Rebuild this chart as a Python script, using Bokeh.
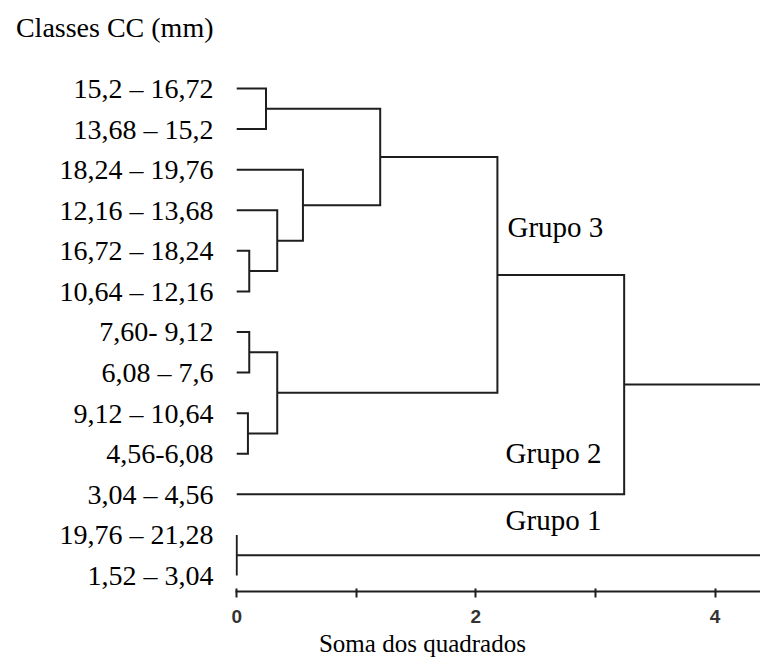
from bokeh.plotting import figure
from bokeh.models import Range1d, FixedTicker, ColumnDataSource, LinearAxis
from bokeh.core.properties import value
from bokeh.embed import file_html
from bokeh.resources import INLINE

# ---- data -------------------------------------------------------------
LEAVES = [
    "15,2 \u2013 16,72",
    "13,68 \u2013 15,2",
    "18,24 \u2013 19,76",
    "12,16 \u2013 13,68",
    "16,72 \u2013 18,24",
    "10,64 \u2013 12,16",
    "7,60- 9,12",
    "6,08 \u2013 7,6",
    "9,12 \u2013 10,64",
    "4,56-6,08",
    "3,04 \u2013 4,56",
    "19,76 \u2013 21,28",
    "1,52 \u2013 3,04",
]
# linkage: node ids 0..12 are leaves, merges get ids 13, 14, ...
MERGE_LEFT = [11, 4, 8, 6, 0, 3, 16, 2, 17, 21, 22, 23]
MERGE_RIGHT = [12, 5, 9, 7, 1, 14, 15, 18, 20, 19, 10, 13]
MERGE_HEIGHT = [0.0, 0.105, 0.094, 0.105, 0.245, 0.339, 0.339, 0.554, 1.20, 2.18, 3.24, 4.6]

X_TICKS = [0, 1, 2, 3, 4]
X_TICK_LABELS = ["0", "", "2", "", "4"]

GROUP_LABELS = ["Grupo 3", "Grupo 2", "Grupo 1"]
GROUP_X = [2.264, 2.248, 2.248]
GROUP_Y = [3.425, 8.994, 10.645]

TITLE = "Classes CC (mm)"
TITLE_POS = -1.503          # place of the heading on the leaf axis
X_LABEL = "Soma dos quadrados"
X_LABEL_POS = 1.553         # place of the axis title along x

# ---- dendrogram geometry from linkage ----------------------------------
n = len(LEAVES)
node_y = {i: float(i) for i in range(n)}
node_h = {i: 0.0 for i in range(n)}
xs, ys = [], []
for k, (a, b, h) in enumerate(zip(MERGE_LEFT, MERGE_RIGHT, MERGE_HEIGHT)):
    nid = n + k
    xs.append([node_h[a], h, h, node_h[b]])
    ys.append([node_y[a], node_y[a], node_y[b], node_y[b]])
    node_y[nid] = (node_y[a] + node_y[b]) / 2.0
    node_h[nid] = h

src = ColumnDataSource(dict(xs=xs, ys=ys))

# ---- figure --------------------------------------------------------------
p = figure(
    width=760, height=666,
    output_backend="svg", toolbar_location=None,
    x_range=Range1d(-0.01, 4.38),
    y_range=Range1d(12.395, -2.168),
    min_border_left=235, min_border_right=0,
    min_border_top=0, min_border_bottom=75,
    background_fill_color="white", border_fill_color="white",
)
p.outline_line_color = None
p.xgrid.grid_line_color = None
p.ygrid.grid_line_color = None

p.multi_line(xs="xs", ys="ys", source=src, line_color="#1e1e1e",
             line_width=2, line_join="miter", line_cap="butt")

# x axis
xa = p.xaxis[0]
xa.ticker = FixedTicker(ticks=X_TICKS)
xa.major_label_overrides = {t: l for t, l in zip(X_TICKS, X_TICK_LABELS)}
xa.axis_line_color = "#1e1e1e"
xa.axis_line_width = 2
xa.major_tick_line_color = "#1e1e1e"
xa.major_tick_line_width = 2
xa.major_tick_in = 3
xa.major_tick_out = 6
xa.minor_tick_line_color = None
xa.major_label_text_font = "Liberation Sans"
xa.major_label_text_font_style = "bold"
xa.major_label_text_font_size = "19px"
xa.major_label_text_color = "#333333"
xa.major_label_standoff = 12

# second, bare axis below carrying the x title
xl = LinearAxis(ticker=FixedTicker(ticks=[X_LABEL_POS]),
                major_label_overrides={X_LABEL_POS: X_LABEL})
xl.axis_line_color = None
xl.major_tick_line_color = None
xl.minor_tick_line_color = None
xl.major_tick_in = 0
xl.major_tick_out = 0
xl.major_label_standoff = 4
xl.major_label_text_font = "Liberation Serif"
xl.major_label_text_font_size = "25px"
xl.major_label_text_color = "black"
p.add_layout(xl, "below")

# y axis: leaf labels plus the heading
ya = p.yaxis[0]
ya.ticker = FixedTicker(ticks=[TITLE_POS] + list(range(n)))
overrides = {i: lab for i, lab in enumerate(LEAVES)}
overrides[TITLE_POS] = TITLE
ya.major_label_overrides = overrides
ya.axis_line_color = None
ya.major_tick_line_color = None
ya.minor_tick_line_color = None
ya.major_tick_in = 0
ya.major_tick_out = 0
ya.major_label_standoff = 22
ya.major_label_text_font = "Liberation Serif"
ya.major_label_text_font_size = "28px"
ya.major_label_text_color = "black"

# group labels
gsrc = ColumnDataSource(dict(x=GROUP_X, y=GROUP_Y, t=GROUP_LABELS))
p.text(x="x", y="y", text="t", source=gsrc, text_font=value("Liberation Serif"),
       text_font_size="29px", text_align="left", text_baseline="middle",
       text_color="black")

open("out.html", "w").write(file_html(p, INLINE))
